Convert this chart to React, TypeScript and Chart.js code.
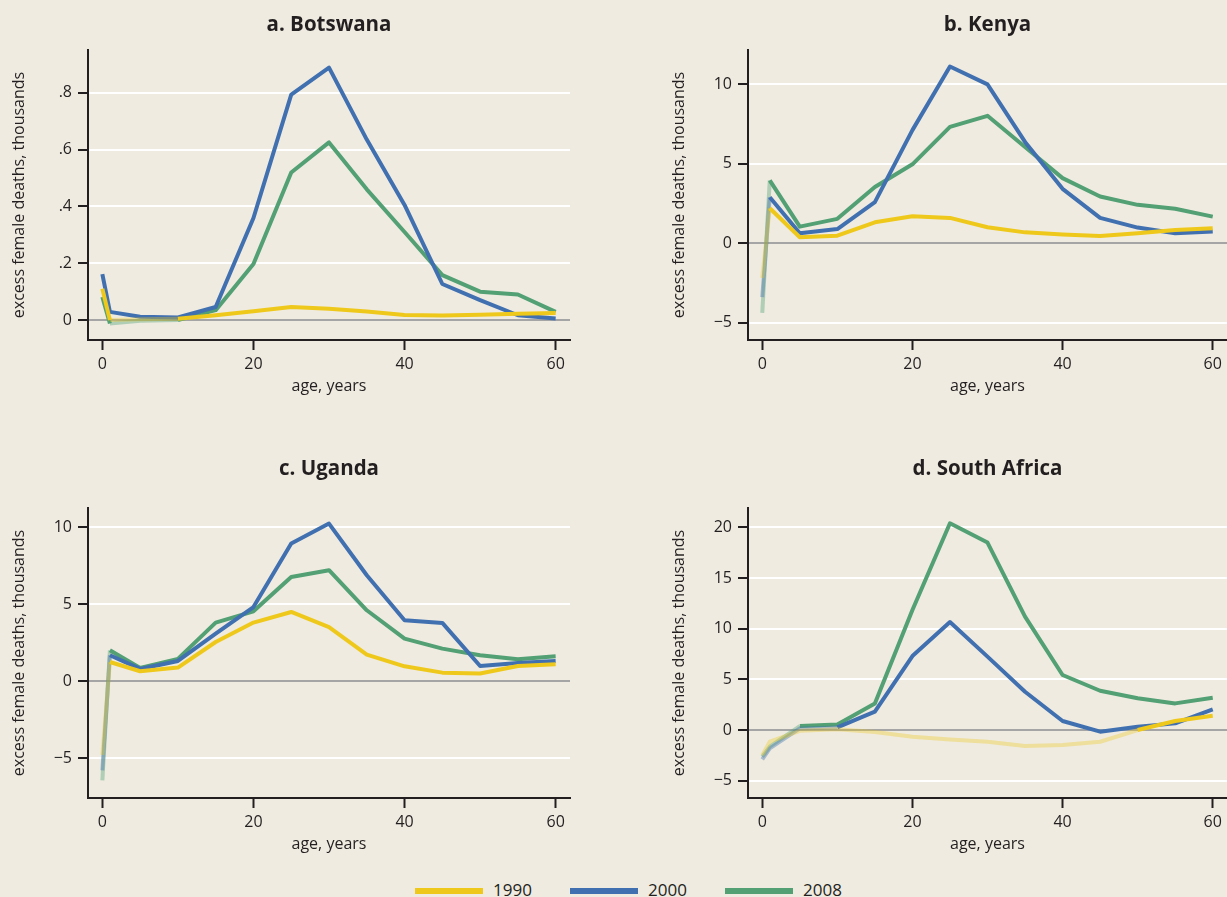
import React, { useEffect, useRef } from 'react';
import { Chart, registerables } from 'chart.js';

Chart.register(...registerables);

// ---------- data ----------
const ages = [0, 1, 5, 10, 15, 20, 25, 30, 35, 40, 45, 50, 55, 60];
const seriesLabels = ['1990', '2000', '2008'];

const botswana1990 = [0.11, 0.0, 0.003, 0.005, 0.017, 0.031, 0.046, 0.04, 0.03, 0.018, 0.016, 0.019, 0.022, 0.025];
const botswana2000 = [0.162, 0.029, 0.012, 0.009, 0.046, 0.359, 0.793, 0.888, 0.635, 0.405, 0.127, 0.07, 0.017, 0.006];
const botswana2008 = [0.081, -0.012, -0.002, 0.0, 0.035, 0.197, 0.519, 0.625, 0.46, 0.31, 0.158, 0.1, 0.09, 0.029];

const kenya1990 = [-2.2, 2.19, 0.36, 0.46, 1.3, 1.68, 1.58, 0.99, 0.67, 0.53, 0.44, 0.61, 0.82, 0.93];
const kenya2000 = [-3.4, 2.88, 0.61, 0.88, 2.57, 7.1, 11.1, 9.98, 6.36, 3.41, 1.58, 0.97, 0.61, 0.72];
const kenya2008 = [-4.4, 3.94, 1.03, 1.52, 3.52, 4.95, 7.3, 8.0, 6.04, 4.08, 2.93, 2.4, 2.15, 1.66];

const uganda1990 = [-4.8, 1.23, 0.63, 0.87, 2.53, 3.79, 4.48, 3.5, 1.71, 0.95, 0.54, 0.48, 0.97, 1.08];
const uganda2000 = [-5.8, 1.67, 0.78, 1.3, 3.07, 4.8, 8.92, 10.22, 6.86, 3.94, 3.77, 0.97, 1.17, 1.3];
const uganda2008 = [-6.45, 1.99, 0.84, 1.43, 3.79, 4.52, 6.75, 7.19, 4.59, 2.75, 2.1, 1.67, 1.41, 1.6];

const southAfrica1990 = [-2.47, -1.15, -0.07, 0.07, -0.2, -0.66, -0.92, -1.15, -1.58, -1.48, -1.15, 0.0, 0.89, 1.41];
const southAfrica2000 = [-2.9, -1.81, 0.16, 0.26, 1.81, 7.3, 10.66, 7.24, 3.78, 0.89, -0.16, 0.33, 0.66, 2.04];
const southAfrica2008 = [-2.63, -1.64, 0.39, 0.56, 2.63, 11.84, 20.39, 18.49, 11.18, 5.43, 3.88, 3.13, 2.63, 3.19];

// age ranges drawn faded (not significant), per series [1990, 2000, 2008]
const botswanaFade = [[1, 10], null, [1, 10]];
const kenyaFade = [[0, 1], [0, 1], [0, 1]];
const ugandaFade = [[0, 1], [0, 1], [0, 1]];
const southAfricaFade = [[0, 50], [0, 10], [0, 5]];

const botswanaYTicks = [0, 0.2, 0.4, 0.6, 0.8];
const kenyaYTicks = [-5, 0, 5, 10];
const ugandaYTicks = [-5, 0, 5, 10];
const southAfricaYTicks = [-5, 0, 5, 10, 15, 20];
const xTicks = [0, 20, 40, 60];

// ---------- style ----------
const BG = '#efebe1';
const INK = '#231f20';
const COLORS = ['#efc81c', '#4170b0', '#52a073'];
const FADED = ['rgba(239,200,28,0.35)', 'rgba(65,112,176,0.4)', 'rgba(82,160,115,0.4)'];
const FONT = "'Open Sans', 'Noto Sans', sans-serif";

const fmtY = (v: number) => {
  if (v === 0) return '0';
  let s = String(v);
  s = s.replace(/^(-?)0\./, '$1.');
  return s.replace('-', '\u2212');
};

type PanelProps = {
  title: string;
  left: number;
  top: number;
  width: number;
  height: number;
  rightPad: number;
  titlePadTop: number;
  titlePadBottom: number;
  yMin: number;
  yMax: number;
  yTicks: number[];
  series: number[][];
  fades: (number[] | null)[];
};

const TITLE_SIZE = 20.5;
const TITLE_LH = TITLE_SIZE * 1.2;

function Panel(p: PanelProps) {
  const ref = useRef<HTMLCanvasElement | null>(null);
  useEffect(() => {
    if (!ref.current) return;
    const datasets = p.series.map((vals, i) => {
      const fade = p.fades[i];
      return {
        label: seriesLabels[i],
        data: vals.map((v, j) => ({ x: ages[j], y: v })),
        borderColor: COLORS[i],
        borderWidth: 4,
        pointRadius: 0,
        tension: 0,
        borderJoinStyle: 'round' as const,
        borderCapStyle: 'butt' as const,
        fill: false,
        segment: {
          borderColor: (ctx: any) => {
            if (!fade) return undefined;
            const a0 = ages[ctx.p0DataIndex];
            const a1 = ages[ctx.p1DataIndex];
            return a0 >= fade[0] && a1 <= fade[1] ? FADED[i] : undefined;
          },
        },
      };
    });
    const chart = new Chart(ref.current, {
      type: 'line',
      data: { datasets },
      options: {
        animation: false,
        responsive: false,
        maintainAspectRatio: false,
        layout: { padding: { left: 0, right: p.rightPad, top: 0, bottom: 0 } },
        plugins: {
          legend: { display: false },
          tooltip: { enabled: false },
          title: {
            display: true,
            text: p.title,
            fullSize: false,
            color: INK,
            font: { family: FONT, size: TITLE_SIZE, weight: 'bold', lineHeight: 1.2 },
            padding: { top: p.titlePadTop, bottom: p.titlePadBottom },
          },
        },
        scales: {
          x: {
            type: 'linear',
            min: -1.9,
            max: 61.9,
            afterBuildTicks: (s: any) => {
              s.ticks = xTicks.map((v) => ({ value: v }));
            },
            afterFit: (s: any) => {
              s.height = 60;
            },
            grid: {
              drawOnChartArea: false,
              drawTicks: true,
              tickLength: 10,
              tickColor: INK,
              tickWidth: 2,
              color: INK,
            },
            border: { display: true, color: INK, width: 2 },
            ticks: {
              color: INK,
              padding: 5,
              maxRotation: 0,
              autoSkip: false,
              font: { family: FONT, size: 16 },
              callback: (v: any) => String(v),
            },
            title: {
              display: true,
              text: 'age, years',
              color: INK,
              font: { family: FONT, size: 16, lineHeight: 1.2 },
              padding: { top: 0, bottom: 4 },
            },
          },
          y: {
            type: 'linear',
            min: p.yMin,
            max: p.yMax,
            afterBuildTicks: (s: any) => {
              s.ticks = p.yTicks.map((v) => ({ value: v }));
            },
            afterFit: (s: any) => {
              s.width = 88;
            },
            grid: {
              drawOnChartArea: true,
              drawTicks: true,
              tickLength: 10,
              tickColor: INK,
              tickWidth: 2,
              lineWidth: 2,
              color: (ctx: any) => (ctx.tick && ctx.tick.value === 0 ? '#a5a5a5' : '#ffffff'),
            },
            border: { display: true, color: INK, width: 2 },
            ticks: {
              color: INK,
              padding: 6,
              autoSkip: false,
              font: { family: FONT, size: 16 },
              callback: (v: any) => fmtY(Number(v)),
            },
            title: {
              display: true,
              text: 'excess female deaths, thousands',
              color: INK,
              font: { family: FONT, size: 16, lineHeight: 1.2 },
              padding: { top: 10, bottom: 0 },
            },
          },
        },
      } as any,
    });
    return () => chart.destroy();
  }, []);
  return (
    <div style={{ position: 'absolute', left: p.left, top: p.top, width: p.width, height: p.height }}>
      <canvas ref={ref} width={p.width} height={p.height} style={{ width: p.width, height: p.height, display: 'block' }} />
    </div>
  );
}

const legendItems = [
  { swatch: 415, text: 493 },
  { swatch: 570, text: 648 },
  { swatch: 725, text: 803 },
];

// title block heights: top row 50 (centre 25), bottom row 88 (centre 49)
const topPad1 = 25 - TITLE_LH / 2;
const botPad1 = 50 - topPad1 - TITLE_LH;
const topPad2 = 49 - TITLE_LH / 2;
const botPad2 = 88 - topPad2 - TITLE_LH;

export default function App() {
  return (
    <div
      style={{
        position: 'fixed',
        left: 0,
        top: 0,
        width: 1227,
        height: 897,
        background: BG,
        overflow: 'hidden',
        fontFamily: FONT,
      }}
    >
      <Panel
        title="a. Botswana"
        left={0}
        top={0}
        width={600}
        height={400}
        rightPad={30}
        titlePadTop={topPad1}
        titlePadBottom={botPad1}
        yMin={-0.07}
        yMax={0.95}
        yTicks={botswanaYTicks}
        series={[botswana1990, botswana2000, botswana2008]}
        fades={botswanaFade}
      />
      <Panel
        title="b. Kenya"
        left={660}
        top={0}
        width={567}
        height={400}
        rightPad={0}
        titlePadTop={topPad1}
        titlePadBottom={botPad1}
        yMin={-6.1}
        yMax={12.14}
        yTicks={kenyaYTicks}
        series={[kenya1990, kenya2000, kenya2008]}
        fades={kenyaFade}
      />
      <Panel
        title="c. Uganda"
        left={0}
        top={420}
        width={600}
        height={438}
        rightPad={30}
        titlePadTop={topPad2}
        titlePadBottom={botPad2}
        yMin={-7.6}
        yMax={11.23}
        yTicks={ugandaYTicks}
        series={[uganda1990, uganda2000, uganda2008]}
        fades={ugandaFade}
      />
      <Panel
        title="d. South Africa"
        left={660}
        top={420}
        width={567}
        height={438}
        rightPad={0}
        titlePadTop={topPad2}
        titlePadBottom={botPad2}
        yMin={-6.7}
        yMax={21.9}
        yTicks={southAfricaYTicks}
        series={[southAfrica1990, southAfrica2000, southAfrica2008]}
        fades={southAfricaFade}
      />
      {legendItems.map((it, i) => (
        <React.Fragment key={seriesLabels[i]}>
          <div
            style={{
              position: 'absolute',
              left: it.swatch,
              top: 888,
              width: 68,
              height: 6,
              background: COLORS[i],
            }}
          />
          <div
            style={{
              position: 'absolute',
              left: it.text,
              top: 881,
              fontSize: 17,
              lineHeight: 1,
              color: INK,
              whiteSpace: 'nowrap',
            }}
          >
            {seriesLabels[i]}
          </div>
        </React.Fragment>
      ))}
    </div>
  );
}
